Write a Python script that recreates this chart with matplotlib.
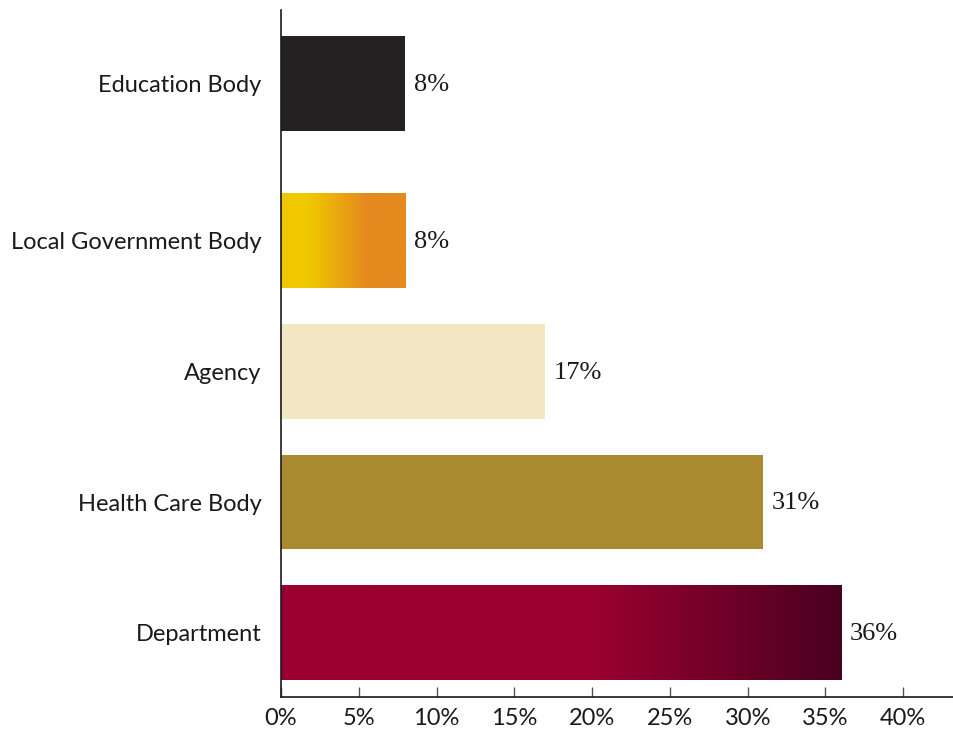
import numpy as np
import matplotlib
matplotlib.use("Agg")
import matplotlib.pyplot as plt
from matplotlib.colors import LinearSegmentedColormap

# Share of bodies by type (percent)
categories = ["Department", "Health Care Body", "Agency", "Local Government Body", "Education Body"]
values = [36, 31, 17, 8, 8]
tick_values = [0, 5, 10, 15, 20, 25, 30, 35, 40]
tick_labels = ["0%", "5%", "10%", "15%", "20%", "25%", "30%", "35%", "40%"]

# Layout: vertical slot of each bar (top bar sits a little further apart)
y_pos = [0, 1, 2, 3, 4.2]
bar_height = 0.725

# Fill styles: solid colour or horizontal gradient stops
fills = [
    [(0.0, "#9A0030"), (0.56, "#9A0030"), (1.0, "#4A0020")],
    "#AA8A30",
    "#F3E7C4",
    [(0.0, "#F0C800"), (0.22, "#F0C800"), (0.68, "#E68A1E"), (1.0, "#E68A1E")],
    "#252122",
]

fig = plt.figure(figsize=(9.54, 7.39), dpi=100)
ax = fig.add_axes([0.2945, 0.0568, 0.7045, 0.9297])

bars = ax.barh(y_pos, values, height=bar_height, linewidth=0)

for bar, fill in zip(bars, fills):
    if isinstance(fill, str):
        bar.set_facecolor(fill)
    else:
        bar.set_facecolor("none")
        cmap = LinearSegmentedColormap.from_list("g", fill)
        x0, y0 = bar.get_x(), bar.get_y()
        w, h = bar.get_width(), bar.get_height()
        grad = np.linspace(0, 1, 256).reshape(1, -1)
        im = ax.imshow(grad, cmap=cmap, aspect="auto",
                       extent=(x0, x0 + w, y0, y0 + h), origin="lower",
                       interpolation="bilinear", zorder=bar.get_zorder())
        im.set_clip_path(bar)

for yp, v in zip(y_pos, values):
    ax.annotate(f"{v}%", xy=(v, yp), xytext=(6, -1), textcoords="offset points",
                ha="left", va="center", fontsize=19, family="Liberation Serif",
                color="#1a1a1a")

ax.set_xlim(0, 43.2)
ax.set_ylim(-0.49, 4.76)

ax.set_yticks(y_pos)
ax.set_yticklabels(categories, fontsize=17, family="Lato", color="#1a1a1a")
ax.tick_params(axis="y", length=0, pad=14)

ax.set_xticks(tick_values)
ax.set_xticklabels(tick_labels, fontsize=17, family="Lato", color="#1a1a1a")
ax.tick_params(axis="x", direction="in", length=7, width=1, color="#555555", pad=8)

for side in ("top", "right"):
    ax.spines[side].set_visible(False)
for side in ("left", "bottom"):
    ax.spines[side].set_color("#1a1a1a")
    ax.spines[side].set_linewidth(1.2)

fig.savefig("out.png", dpi=100, facecolor="white")
